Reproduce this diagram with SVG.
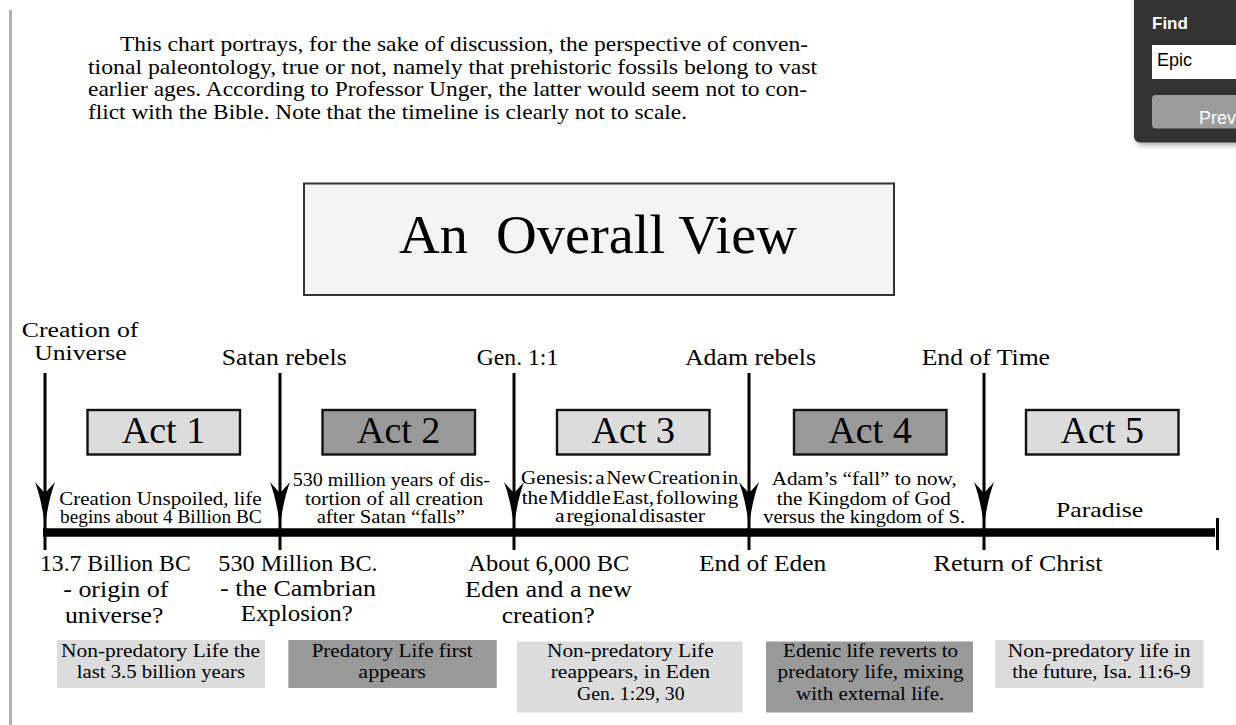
<svg xmlns="http://www.w3.org/2000/svg" width="1236" height="725" viewBox="0 0 1236 725">
<style>
text{font-family:"Liberation Serif","Times New Roman",serif;fill:#000;}
.intro{font-size:21px;}
.lab{font-size:24px;}
.desc{font-size:18px;}
.act{font-size:38px;text-anchor:middle;}
.box{font-size:19px;}
.light{fill:#dcdcdc;}
.dark{fill:#999999;}
.actbox{stroke:#111;stroke-width:2.4;}
.vline{stroke:#000;stroke-width:3;}
.ui{font-family:"Liberation Sans",Arial,sans-serif;}
</style>
<defs>
<path id="head" d="M0,0 Q-3,-26 -10,-45 Q-4,-38 0,-34 Q4,-38 10,-45 Q3,-26 0,0 Z" fill="#000"/>
<filter id="sh" x="-20%" y="-20%" width="140%" height="140%"><feGaussianBlur stdDeviation="3"/></filter>
</defs>
<rect width="1236" height="725" fill="#fff"/>
<rect x="9" y="10" width="3" height="715" fill="#b0b0b0"/>

<g id="intro" class="intro">
<text x="120" y="51" textLength="688" lengthAdjust="spacingAndGlyphs">This chart portrays, for the sake of discussion, the perspective of conven-</text>
<text x="88" y="73.5" textLength="729" lengthAdjust="spacingAndGlyphs">tional paleontology, true or not, namely that prehistoric fossils belong to vast</text>
<text x="88" y="96" textLength="719" lengthAdjust="spacingAndGlyphs">earlier ages. According to Professor Unger, the latter would seem not to con-</text>
<text x="88" y="118.5" textLength="599" lengthAdjust="spacingAndGlyphs">flict with the Bible. Note that the timeline is clearly not to scale.</text>
</g>

<g id="findpanel">
<rect x="1136" y="-6" width="110" height="151" rx="6" fill="#000" opacity="0.35" filter="url(#sh)"/>
<rect x="1134" y="-6" width="110" height="148.5" rx="6" fill="#333"/>
<text class="ui" x="1152" y="29" font-size="17" font-weight="bold" style="fill:#fff">Find</text>
<rect x="1152" y="45" width="90" height="34" fill="#fff"/>
<text class="ui" x="1157" y="66" font-size="18" style="fill:#000">Epic</text>
<rect x="1152" y="95" width="95" height="33.5" rx="4" fill="#9c9c9c"/>
<text class="ui" x="1199" y="124" font-size="18" style="fill:#fff">Prev</text>
</g>

<g id="title">
<rect x="304" y="183.5" width="590" height="111.5" fill="#f4f4f4" stroke="#333" stroke-width="2"/>
<text x="399" y="252.5" font-size="55" textLength="398" lengthAdjust="spacingAndGlyphs" xml:space="preserve">An  Overall View</text>
</g>

<g id="connectors">
<line x1="43" y1="532.5" x2="1215" y2="532.5" stroke="#000" stroke-width="8.5"/>
<line x1="1217.5" y1="518" x2="1217.5" y2="550" class="vline"/>
<line x1="45" y1="373" x2="45" y2="550" class="vline"/>
<line x1="280" y1="373" x2="280" y2="550" class="vline"/>
<line x1="514" y1="373" x2="514" y2="550" class="vline"/>
<line x1="749" y1="373" x2="749" y2="550" class="vline"/>
<line x1="984" y1="373" x2="984" y2="550" class="vline"/>
<use href="#head" x="45" y="527"/>
<use href="#head" x="280" y="527"/>
<use href="#head" x="514" y="527"/>
<use href="#head" x="749" y="527"/>
<use href="#head" x="984" y="527"/>
</g>

<g id="event-creation" class="lab">
<text x="21.7" y="336.5" font-size="20.5" textLength="116.7" lengthAdjust="spacingAndGlyphs">Creation of</text>
<text x="34.3" y="359.5" font-size="20.5" textLength="92.4" lengthAdjust="spacingAndGlyphs">Universe</text>
<text x="40" y="570.7" textLength="150.7" lengthAdjust="spacingAndGlyphs">13.7 Billion BC</text>
<text x="63.3" y="596.7" textLength="105" lengthAdjust="spacingAndGlyphs">- origin of</text>
<text x="65" y="622.5" textLength="98.3" lengthAdjust="spacingAndGlyphs">universe?</text>
</g>
<g id="event-satan" class="lab">
<text x="221.7" y="365" textLength="125" lengthAdjust="spacingAndGlyphs">Satan rebels</text>
<text x="218.3" y="570.7" textLength="159.3" lengthAdjust="spacingAndGlyphs">530 Million BC.</text>
<text x="220" y="595.5" textLength="156" lengthAdjust="spacingAndGlyphs">- the Cambrian</text>
<text x="240.7" y="621" textLength="112" lengthAdjust="spacingAndGlyphs">Explosion?</text>
</g>
<g id="event-genesis" class="lab">
<text x="476.7" y="365" textLength="81.6" lengthAdjust="spacingAndGlyphs">Gen. 1:1</text>
<text x="468.3" y="570.7" textLength="161.1" lengthAdjust="spacingAndGlyphs">About 6,000 BC</text>
<text x="465" y="596.7" textLength="167" lengthAdjust="spacingAndGlyphs">Eden and a new</text>
<text x="501.7" y="623.3" textLength="93" lengthAdjust="spacingAndGlyphs">creation?</text>
</g>
<g id="event-adam" class="lab">
<text x="685" y="365" textLength="131" lengthAdjust="spacingAndGlyphs">Adam rebels</text>
<text x="699" y="570.7" textLength="127.3" lengthAdjust="spacingAndGlyphs">End of Eden</text>
</g>
<g id="event-end" class="lab">
<text x="921.7" y="365" textLength="128.3" lengthAdjust="spacingAndGlyphs">End of Time</text>
<text x="933.6" y="570.7" textLength="169" lengthAdjust="spacingAndGlyphs">Return of Christ</text>
</g>

<g id="act1">
<rect x="87.5" y="410" width="152.5" height="44.5" class="light actbox"/>
<text class="act" x="163.5" y="442.7">Act 1</text>
<text class="desc" x="59.3" y="505" textLength="202.4" lengthAdjust="spacingAndGlyphs">Creation Unspoiled, life</text>
<text class="desc" x="60" y="523.3" textLength="201.7" lengthAdjust="spacingAndGlyphs">begins about 4 Billion BC</text>
</g>
<g id="act2">
<rect x="322.5" y="410" width="152.5" height="44.5" class="dark actbox"/>
<text class="act" x="398.7" y="442.7">Act 2</text>
<text class="desc" x="292.7" y="485.5" textLength="197.3" lengthAdjust="spacingAndGlyphs">530 million years of dis-</text>
<text class="desc" x="305" y="504.5" textLength="178.3" lengthAdjust="spacingAndGlyphs">tortion of all creation</text>
<text class="desc" x="316.7" y="523" textLength="148.3" lengthAdjust="spacingAndGlyphs">after Satan “falls”</text>
</g>
<g id="act3">
<rect x="557" y="410" width="152.5" height="44.5" class="light actbox"/>
<text class="act" x="633.3" y="442.7">Act 3</text>
<text class="desc" x="521" y="483.5" textLength="217.3" lengthAdjust="spacingAndGlyphs" word-spacing="-3">Genesis: a New Creation in</text>
<text class="desc" x="521.7" y="503.5" textLength="216.6" lengthAdjust="spacingAndGlyphs" word-spacing="-3">the Middle East, following</text>
<text class="desc" x="555" y="522" textLength="150" lengthAdjust="spacingAndGlyphs" word-spacing="-3">a regional disaster</text>
</g>
<g id="act4">
<rect x="794" y="410" width="152.5" height="44.5" class="dark actbox"/>
<text class="act" x="870" y="442.7">Act 4</text>
<text class="desc" x="771.7" y="485" textLength="185" lengthAdjust="spacingAndGlyphs">Adam’s “fall” to now,</text>
<text class="desc" x="776.7" y="504.5" textLength="174" lengthAdjust="spacingAndGlyphs">the Kingdom of God</text>
<text class="desc" x="763.3" y="523" textLength="201.7" lengthAdjust="spacingAndGlyphs">versus the kingdom of S.</text>
</g>
<g id="act5">
<rect x="1026" y="410" width="152.5" height="44.5" class="light actbox"/>
<text class="act" x="1102.3" y="442.7">Act 5</text>
<text x="1056" y="516.7" font-size="22" textLength="87.3" lengthAdjust="spacingAndGlyphs">Paradise</text>
</g>

<g id="life1" class="box">
<rect x="57" y="640" width="208" height="48" class="light"/>
<text x="61" y="657.3" textLength="199" lengthAdjust="spacingAndGlyphs">Non-predatory Life the</text>
<text x="76.7" y="678.3" textLength="168.3" lengthAdjust="spacingAndGlyphs">last 3.5 billion years</text>
</g>
<g id="life2" class="box">
<rect x="288.3" y="640" width="208.4" height="48" class="dark"/>
<text x="311.7" y="657.3" textLength="161" lengthAdjust="spacingAndGlyphs">Predatory Life first</text>
<text x="358.3" y="678.3" textLength="67.7" lengthAdjust="spacingAndGlyphs">appears</text>
</g>
<g id="life3" class="box">
<rect x="517" y="641.5" width="225.5" height="71" class="light"/>
<text x="547" y="657.3" textLength="166.7" lengthAdjust="spacingAndGlyphs">Non-predatory Life</text>
<text x="550.7" y="678.3" textLength="159.3" lengthAdjust="spacingAndGlyphs">reappears, in Eden</text>
<text x="577.1" y="700" textLength="107.4" lengthAdjust="spacingAndGlyphs">Gen. 1:29, 30</text>
</g>
<g id="life4" class="box">
<rect x="766" y="641.5" width="207" height="71" class="dark"/>
<text x="783.1" y="657.3" textLength="175" lengthAdjust="spacingAndGlyphs">Edenic life reverts to</text>
<text x="777.6" y="678.3" textLength="186.1" lengthAdjust="spacingAndGlyphs">predatory life, mixing</text>
<text x="796.1" y="700" textLength="148.2" lengthAdjust="spacingAndGlyphs">with external life.</text>
</g>
<g id="life5" class="box">
<rect x="995.2" y="640" width="208.3" height="48" class="light"/>
<text x="1007.7" y="657.3" textLength="182.9" lengthAdjust="spacingAndGlyphs">Non-predatory life in</text>
<text x="1012.3" y="678.3" textLength="178.3" lengthAdjust="spacingAndGlyphs">the future, Isa. 11:6-9</text>
</g>
</svg>
